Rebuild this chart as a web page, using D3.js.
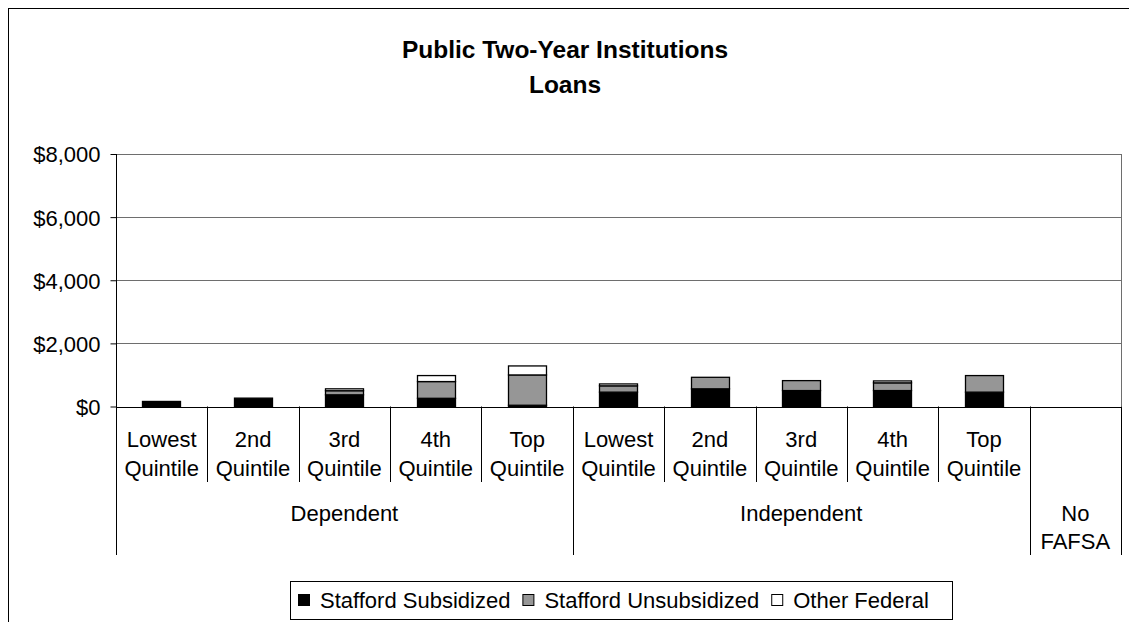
<!DOCTYPE html>
<html>
<head>
<meta charset="utf-8">
<script src="https://cdn.jsdelivr.net/npm/d3@7"></script>
<style>
  html, body { margin: 0; padding: 0; background: #fff; }
  svg { display: block; }
  text { font-family: "Liberation Sans", Arial, sans-serif; fill: #000; }
</style>
</head>
<body>
<svg id="chart" width="1129" height="622"></svg>
<script>
// Average federal loan amounts by dependency status and income quintile
const quintileLabels = [
  ["Lowest", "Quintile"], ["2nd", "Quintile"], ["3rd", "Quintile"], ["4th", "Quintile"], ["Top", "Quintile"],
  ["Lowest", "Quintile"], ["2nd", "Quintile"], ["3rd", "Quintile"], ["4th", "Quintile"], ["Top", "Quintile"],
  []
];
const groupNames = [["Dependent"], ["Independent"], ["No", "FAFSA"]];
const groupSizes = [5, 5, 1];

const seriesNames = ["Stafford Subsidized", "Stafford Unsubsidized", "Other Federal"];
const seriesColors = ["#000000", "#969696", "#ffffff"];

const staffordSubsidized   = [160, 265, 370, 260, 40, 455, 560, 505, 505, 455, 0];
const staffordUnsubsidized = [0, 0, 130, 530, 960, 200, 365, 315, 245, 525, 0];
const otherFederal         = [0, 0, 60, 190, 285, 60, 0, 0, 60, 0, 0];

const yTicks = [0, 2000, 4000, 6000, 8000];

const svg = d3.select("#chart");
const FONT = 22;

function label(g, x, y, str, opts = {}) {
  const t = g.append("text")
    .attr("x", x).attr("y", y)
    .attr("text-anchor", opts.anchor || "middle")
    .style("font-size", (opts.size || FONT) + "px")
    .text(str);
  if (opts.bold) t.style("font-weight", "bold");
  return t;
}

// outer chart frame
svg.append("rect")
  .attr("x", 8.5).attr("y", 8.5).attr("width", 1140).attr("height", 640)
  .attr("fill", "none").attr("stroke", "#000").attr("stroke-width", 1);

// title
label(svg, 565, 58, "Public Two-Year Institutions", { bold: true, size: 24.5 });
label(svg, 565, 93, "Loans", { bold: true, size: 24.5 });

const plot = { left: 116, right: 1121, top: 154, bottom: 406.5 };
const n = staffordSubsidized.length;

const x = d3.scaleBand()
  .domain(d3.range(n))
  .range([plot.left, plot.right])
  .paddingInner(0.58)
  .paddingOuter(0.29);
const step = x.step();

const y = d3.scaleLinear().domain([0, 8000]).range([plot.bottom, plot.top]);

// gridlines
svg.append("g").selectAll("line")
  .data(yTicks.filter(d => d > 0))
  .join("line")
  .attr("x1", plot.left).attr("x2", plot.right)
  .attr("y1", d => Math.round(y(d)) + 0.5).attr("y2", d => Math.round(y(d)) + 0.5)
  .attr("stroke", "#6e6e6e").attr("stroke-width", 1);

// right edge of the plot area
svg.append("line")
  .attr("x1", plot.right + 0.5).attr("x2", plot.right + 0.5)
  .attr("y1", plot.top).attr("y2", plot.bottom)
  .attr("stroke", "#6e6e6e");

// stacked bars
const rows = d3.range(n).map(i => ({
  i,
  [seriesNames[0]]: staffordSubsidized[i],
  [seriesNames[1]]: staffordUnsubsidized[i],
  [seriesNames[2]]: otherFederal[i]
}));
const stacked = d3.stack().keys(seriesNames)(rows);

svg.append("g").selectAll("g")
  .data(stacked)
  .join("g")
  .attr("fill", (d, k) => seriesColors[k])
  .selectAll("rect")
  .data(d => d.filter(s => s[1] - s[0] > 0))
  .join("rect")
  .attr("x", s => Math.round(x(s.data.i)) + 0.5)
  .attr("width", Math.round(x.bandwidth()))
  .attr("y", s => y(s[1]))
  .attr("height", s => y(s[0]) - y(s[1]))
  .attr("stroke", "#000")
  .attr("stroke-width", 1.3);

// y axis
const yAxis = svg.append("g")
  .attr("transform", `translate(${plot.left + 0.5},0)`)
  .call(d3.axisLeft(y).tickValues(yTicks).tickSize(6).tickPadding(10).tickSizeOuter(0)
    .tickFormat(d => "$" + d3.format(",")(d)));
yAxis.select(".domain").remove();
yAxis.selectAll(".tick line").attr("stroke", "#000");
yAxis.selectAll(".tick text")
  .style("font-size", FONT + "px")
  .style("font-family", "'Liberation Sans', Arial, sans-serif")
  .attr("fill", "#000")
  .attr("dy", "0.36em")
  .attr("x", -16);

// axis lines
svg.append("line")
  .attr("x1", plot.left + 0.5).attr("x2", plot.left + 0.5)
  .attr("y1", plot.top).attr("y2", 555)
  .attr("stroke", "#000");
svg.append("line")
  .attr("x1", plot.left).attr("x2", plot.right + 1)
  .attr("y1", Math.round(plot.bottom) + 0.5).attr("y2", Math.round(plot.bottom) + 0.5)
  .attr("stroke", "#000");

// category separators
const catAxis = svg.append("g");
let pos = 0;
const groupEdges = [0];
groupSizes.forEach(s => { pos += s; groupEdges.push(pos); });
d3.range(1, n + 1).forEach(i => {
  const xx = Math.round(plot.left + i * step) + 0.5;
  const isGroupEdge = groupEdges.includes(i);
  catAxis.append("line")
    .attr("x1", xx).attr("x2", xx)
    .attr("y1", plot.bottom).attr("y2", isGroupEdge ? 555 : 482)
    .attr("stroke", "#000");
});

// quintile labels
quintileLabels.forEach((lines, i) => {
  const cx = x(i) + x.bandwidth() / 2;
  lines.forEach((ln, j) => label(catAxis, cx, 447 + j * 29, ln));
});

// group labels
groupNames.forEach((lines, g) => {
  const cx = plot.left + (groupEdges[g] + groupEdges[g + 1]) / 2 * step;
  lines.forEach((ln, j) => label(catAxis, cx, 521 + j * 28, ln));
});

// legend
const legend = svg.append("g");
legend.append("rect")
  .attr("x", 290.5).attr("y", 581.5).attr("width", 662).attr("height", 38)
  .attr("fill", "#fff").attr("stroke", "#000");
let lx = 298;
seriesNames.forEach((name, k) => {
  legend.append("rect")
    .attr("x", lx + 0.5).attr("y", 594.5).attr("width", 11).attr("height", 11)
    .attr("fill", seriesColors[k]).attr("stroke", "#000");
  const t = label(legend, lx + 22, 608, name, { anchor: "start" });
  lx += 22 + t.node().getComputedTextLength() + 12;
});
</script>
</body>
</html>
